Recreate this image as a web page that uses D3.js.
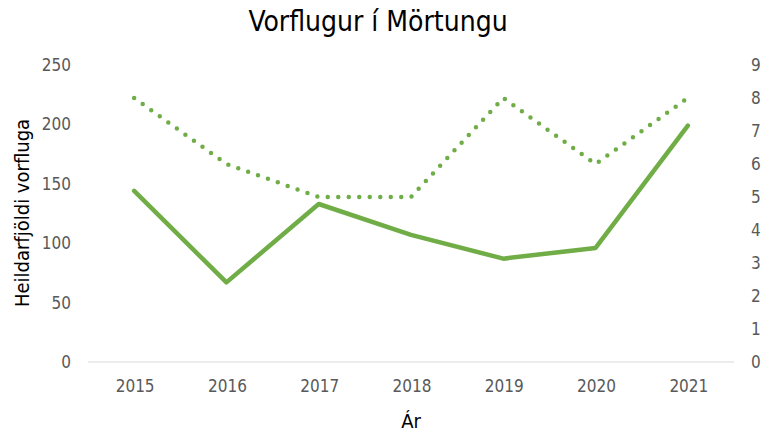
<!DOCTYPE html>
<html><head><meta charset="utf-8">
<script src="https://cdn.jsdelivr.net/npm/d3@7"></script>
<style>body{margin:0;background:#fff}svg{display:block}</style>
</head><body>
<script>
const years = ["2015","2016","2017","2018","2019","2020","2021"];
const totalFlies = [144, 67, 133, 107, 87, 96, 199];
const secondSeries = [8, 6, 5, 5, 8, 6, 8];
const leftTicks = [0, 50, 100, 150, 200, 250];
const rightTicks = [0,1,2,3,4,5,6,7,8,9];

const W = 767, H = 434;
const font = "'Liberation Sans Narrow','DejaVu Sans Condensed',Arial,sans-serif";
const svg = d3.select("body").append("svg").attr("width", W).attr("height", H);

const x = d3.scaleBand().domain(years).range([88, 734]);
const yL = d3.scaleLinear().domain([0, 250]).range([362, 65]);
const yR = d3.scaleLinear().domain([0, 9]).range([362, 65]);
const green = "#70AD47";

svg.append("text").attr("x", 378).attr("y", 31).attr("text-anchor", "middle")
  .attr("font-family", font).attr("font-size", 28).attr("fill", "#000").text("Vorflugur í Mörtungu");

svg.append("line").attr("x1", 88).attr("x2", 734).attr("y1", yL(0)).attr("y2", yL(0))
  .attr("stroke", "#d9d9d9").attr("stroke-width", 1);

svg.append("g").selectAll("text").data(leftTicks).join("text")
  .attr("x", 71).attr("y", d => yL(d)).attr("dy", "0.35em").attr("text-anchor", "end")
  .attr("font-family", font).attr("font-size", 17).attr("fill", "#595959").text(d => d);

svg.append("g").selectAll("text").data(rightTicks).join("text")
  .attr("x", 751).attr("y", d => yR(d)).attr("dy", "0.35em").attr("text-anchor", "start")
  .attr("font-family", font).attr("font-size", 17).attr("fill", "#595959").text(d => d);

svg.append("g").selectAll("text").data(years).join("text")
  .attr("x", d => x(d) + x.bandwidth()/2 + 1).attr("y", 386).attr("dy", "0.35em").attr("text-anchor", "middle")
  .attr("font-family", font).attr("font-size", 17).attr("fill", "#595959").text(d => d);

svg.append("text").attr("x", 411).attr("y", 421).attr("dy", "0.35em").attr("text-anchor", "middle")
  .attr("font-family", font).attr("font-size", 20).attr("fill", "#000").text("Ár");
svg.append("text").attr("transform", "translate(22,213) rotate(-90)").attr("dy", "0.35em").attr("text-anchor", "middle")
  .attr("font-family", font).attr("font-size", 20).attr("fill", "#000").text("Heildarfjöldi vorfluga");

const cx = d => x(d) + x.bandwidth()/2;
const lineL = d3.line().x((d, i) => cx(years[i])).y(d => yL(d));
const lineR = d3.line().x((d, i) => cx(years[i])).y(d => yR(d));

svg.append("path").datum(secondSeries).attr("d", lineR).attr("fill", "none")
  .attr("stroke", green).attr("stroke-width", 4.5).attr("stroke-linecap", "round")
  .attr("stroke-dasharray", "0 10.5");

svg.append("path").datum(totalFlies).attr("d", lineL).attr("fill", "none")
  .attr("stroke", green).attr("stroke-width", 4.5).attr("stroke-linecap", "round").attr("stroke-linejoin", "round");
</script>
</body></html>
